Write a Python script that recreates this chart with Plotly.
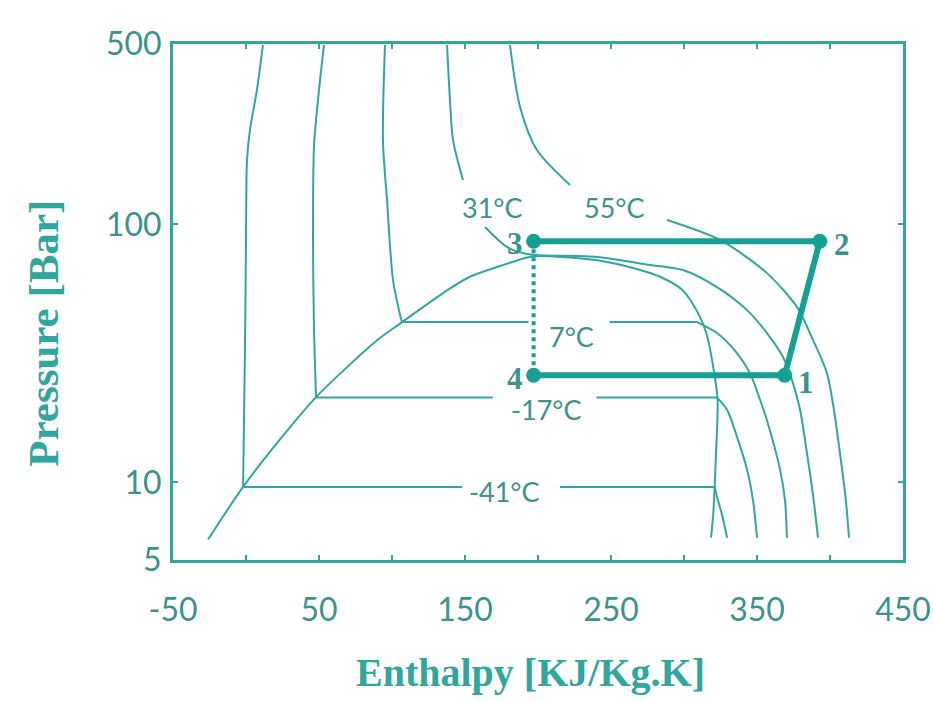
import math
import plotly.graph_objects as go

# ---- Saturation dome of CO2 (enthalpy kJ/kg, pressure bar) ----
dome_h = [-26, -2, 23, 48, 90, 107, 138, 153, 172, 194, 201, 240, 270, 284, 299,
          311, 316, 320, 323, 322, 321, 320, 318.5]
dome_p = [6.0, 9.6, 14.6, 21.4, 35.6, 41.8, 55.6, 62.5, 68.3, 74.7, 75.4, 72.7,
          66.5, 62.5, 55.6, 43.7, 36.6, 28.0, 20.9, 13.3, 9.6, 7.5, 6.1]

# ---- Isotherms: liquid branch, two-phase plateau, vapour branch ----
t_m41_liq_h = [11.6, 7.5, 2.7, 0.7, 0, -0.7, -2]
t_m41_liq_p = [496, 332, 232, 178, 87, 32.6, 9.6]
t_m41_plat_h = [-2, 148, None, 215, 321]
t_m41_plat_p = [9.6, 9.6, None, 9.6, 9.6]
t_m41_vap_h = [321, 323.3, 326, 329.5]
t_m41_vap_p = [9.6, 8.5, 7.5, 6.1]

t_m17_liq_h = [53.4, 49.3, 46.6, 45.9, 46.6, 48]
t_m17_liq_p = [496, 303, 203, 87, 38.9, 21.3]
t_m17_plat_h = [48, 169, None, 240, 322.6]
t_m17_plat_p = [21.3, 21.3, None, 21.3, 21.3]
t_m17_vap_h = [322.6, 329.5, 336.3, 343.2, 347.3, 350]
t_m17_vap_p = [21.3, 19.1, 15.0, 11.2, 8.5, 6.1]

t_7_liq_h = [95.2, 93.8, 96.6, 100.7, 105.5, 106.8]
t_7_liq_p = [496, 212, 124, 60.8, 44.6, 41.8]
t_7_plat_h = [106.8, 193.5, None, 249, 309]
t_7_plat_p = [41.8, 41.8, None, 41.8, 41.8]
t_7_vap_h = [309, 322.6, 336.3, 345.2, 352.1, 356.8, 365.8, 369.2, 370.5]
t_7_vap_p = [41.8, 37.9, 31.7, 26.5, 20.9, 17.4, 11.2, 8.5, 6.1]

t_31_top_h = [137.7, 139.7, 141.8, 148.6]
t_31_top_p = [496, 303, 212, 148.6]
t_31_h = [163.7, 178.8, 192.5, 240.4, 276.7, 299.3, 322.6, 343.2, 356.8, 367.8,
          374, 379.5, 384.2, 388.4, 391.8]
t_31_p = [97.6, 81.7, 76.8, 74.7, 69.6, 66.5, 57.1, 46.5, 37.9, 30.6, 24.9, 19.1,
          13.0, 8.9, 6.1]

t_55_top_h = [180.8, 187.7, 199.3, 221.9]
t_55_top_p = [496, 285, 194, 142]
t_55_h = [288.4, 324.7, 356.8, 377.4, 388.4, 397.9, 402.7, 406.8, 410.9, 413]
t_55_p = [104, 87, 64.7, 47.8, 35.6, 26.5, 19.1, 13.0, 8.5, 6.1]

iso_labels = ["-41°C", "-17°C", "7°C", "31°C", "55°C"]
iso_label_h = [177, 206, 223, 168.5, 252.7]
iso_label_p = [9.2, 19.2, 36.6, 116.7, 116.7]

# ---- Refrigeration cycle: states 4 -> 1 -> 2 -> 3 ----
cycle_names = ["4", "1", "2", "3"]
cycle_h = [197, 369, 393, 197]
cycle_p = [26, 26, 86, 86]

# ---- Axis ticks ----
h_tick_vals = [-50, 0, 50, 100, 150, 200, 250, 300, 350, 400, 450]
h_tick_text = ["-50", "", "50", "", "150", "", "250", "", "350", "", "450"]
p_tick_vals = [5, 10, 100, 500]
p_tick_text = ["5", "10", "100", "500"]

TEAL = "#30a69d"
TEAL_DARK = "#16a093"
LABEL = "#3a938c"

fig = go.Figure()

thin = dict(color=TEAL, width=2)


def curve(h, p, shape="spline"):
    fig.add_trace(go.Scatter(x=h, y=p, mode="lines", line=dict(shape=shape, smoothing=0.8, **thin),
                             hoverinfo="skip", showlegend=False, connectgaps=False))


curve(dome_h, dome_p)
for liq_h, liq_p, pl_h, pl_p, vap_h, vap_p in [
    (t_m41_liq_h, t_m41_liq_p, t_m41_plat_h, t_m41_plat_p, t_m41_vap_h, t_m41_vap_p),
    (t_m17_liq_h, t_m17_liq_p, t_m17_plat_h, t_m17_plat_p, t_m17_vap_h, t_m17_vap_p),
    (t_7_liq_h, t_7_liq_p, t_7_plat_h, t_7_plat_p, t_7_vap_h, t_7_vap_p),
]:
    curve(liq_h, liq_p)
    curve(pl_h, pl_p, shape="linear")
    curve(vap_h, vap_p)

curve(t_31_top_h, t_31_top_p)
curve(t_31_h, t_31_p)
curve(t_55_top_h, t_55_top_p)
curve(t_55_h, t_55_p)

# Cycle: solid path 4-1-2-3, dotted expansion 3-4
fig.add_trace(go.Scatter(x=cycle_h, y=cycle_p, mode="lines",
                         line=dict(color=TEAL_DARK, width=6),
                         hoverinfo="skip", showlegend=False))
fig.add_trace(go.Scatter(x=[cycle_h[3], cycle_h[0]], y=[cycle_p[3], cycle_p[0]], mode="lines",
                         line=dict(color=TEAL_DARK, width=4, dash="dot"),
                         hoverinfo="skip", showlegend=False))
fig.add_trace(go.Scatter(x=cycle_h, y=cycle_p, mode="markers",
                         marker=dict(color=TEAL_DARK, size=15),
                         hoverinfo="skip", showlegend=False))

# Annotations on a log axis take log10 of the pressure
for name, h, p in zip(iso_labels, iso_label_h, iso_label_p):
    fig.add_annotation(x=h, y=math.log10(p), xref="x", yref="y", yanchor="middle", text=name,
                       showarrow=False, font=dict(family="Lato", size=27, color=LABEL))

point_shift = {"4": (-19, -3), "1": (21, -7), "2": (22, -3), "3": (-19, -2)}
for name, h, p in zip(cycle_names, cycle_h, cycle_p):
    dx, dy = point_shift[name]
    fig.add_annotation(x=h, y=math.log10(p), xref="x", yref="y", text=f"<b>{name}</b>",
                       showarrow=False, xshift=dx, yshift=dy,
                       font=dict(family="Liberation Serif", size=31, color=LABEL))

# Axis titles
fig.add_annotation(x=0.49, y=-0.218, xref="paper", yref="paper", text="<b>Enthalpy [KJ/Kg.K]</b>",
                   showarrow=False, yanchor="middle",
                   font=dict(family="Liberation Serif", size=40, color=TEAL))
fig.add_annotation(x=-0.177, y=0.44, xref="paper", yref="paper", text="<b>Pressure [Bar]</b>",
                   showarrow=False, textangle=-90, xanchor="center", yanchor="middle",
                   font=dict(family="Liberation Serif", size=43, color=TEAL))

axis_common = dict(showline=True, linewidth=3, linecolor=TEAL, mirror="ticks",
                   ticks="inside", ticklen=5, tickwidth=2, tickcolor=TEAL,
                   showgrid=False, zeroline=False, automargin=False,
                   tickfont=dict(family="Lato", size=32, color=LABEL))

fig.update_xaxes(range=[-50, 450], tickmode="array", tickvals=h_tick_vals, ticktext=h_tick_text,
                 ticklabelstandoff=20, **axis_common)
fig.update_yaxes(type="log", range=[0.69897, 2.69897], tickmode="array",
                 tickvals=p_tick_vals, ticktext=p_tick_text, ticklabelstandoff=2, **axis_common)

fig.update_layout(width=933, height=701, autosize=False,
                  margin=dict(l=173, r=30, t=44, b=141),
                  paper_bgcolor="white", plot_bgcolor="white")

fig.write_html("out.html")
